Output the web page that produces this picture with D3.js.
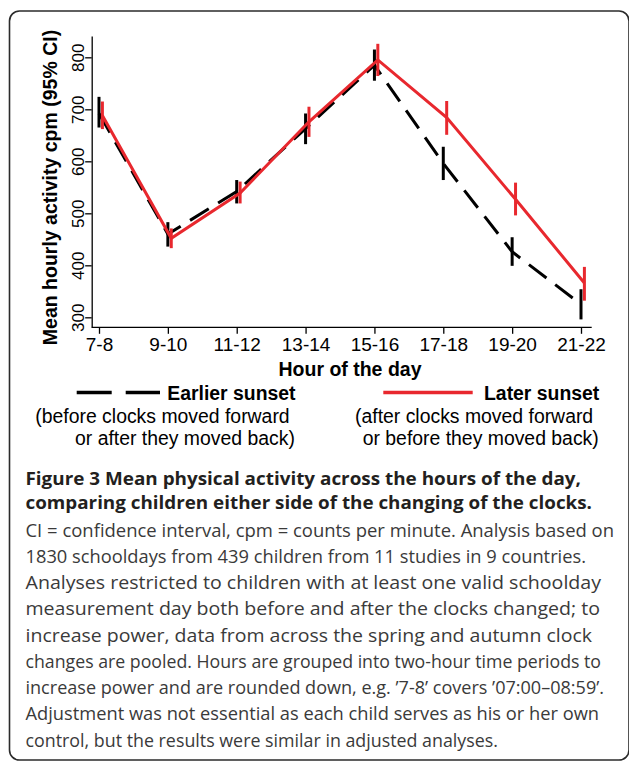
<!DOCTYPE html>
<html>
<head>
<meta charset="utf-8">
<script src="https://cdn.jsdelivr.net/npm/d3@7"></script>
<style>
body{margin:0;background:#fff}
</style>
</head>
<body>
<div id="chart"></div>
<script>
// hour groups on the x axis
var hours = ["7-8","9-10","11-12","13-14","15-16","17-18","19-20","21-22"];
var yTicks = [300,400,500,600,700,800];

// Earlier sunset (black dashed)
var earlierMean = [692,460,542,663,785,596,426,325];
var earlierLo   = [665,436,519,633,755,564,399,296];
var earlierHi   = [724,483,564,692,815,628,454,354];

// Later sunset (red solid)
var laterMean = [688,452,539,676,795,684,527,366];
var laterLo   = [662,433,519,647,764,651,496,332];
var laterHi   = [715,471,561,705,826,716,559,397];

var caption = [
  "CI = confidence interval, cpm = counts per minute. Analysis based on",
  "1830 schooldays from 439 children from 11 studies in 9 countries.",
  "Analyses restricted to children with at least one valid schoolday",
  "measurement day both before and after the clocks changed; to",
  "increase power, data from across the spring and autumn clock",
  "changes are pooled. Hours are grouped into two-hour time periods to",
  "increase power and are rounded down, e.g. \u20197-8\u2019 covers \u201907:00\u201308:59\u2019.",
  "Adjustment was not essential as each child serves as his or her own",
  "control, but the results were similar in adjusted analyses."
];
var captionTitle = [
  "Figure 3 Mean physical activity across the hours of the day,",
  "comparing children either side of the changing of the clocks."
];

var red = "#e8282e";
var chartFont = "'Liberation Sans', Arial, sans-serif";
var capFont = "'Open Sans', sans-serif";

var svg = d3.select("#chart").append("svg")
  .attr("width",629).attr("height",761);

// outer frame
svg.append("rect")
  .attr("x",9.5).attr("y",11).attr("width",619.5).attr("height",749)
  .attr("rx",10).attr("fill","none").attr("stroke","#2b2b2b").attr("stroke-width",1.6);

var plotLeft = 91.7, plotRight = 591.7, plotTop = 36, plotBottom = 327.3;

var x = d3.scalePoint().domain(hours).range([99,581]);
var y = d3.scaleLinear().domain([280.8,841]).range([plotBottom,plotTop]);

// Y axis
var gy = svg.append("g")
  .attr("transform","translate(" + plotLeft + ",0)")
  .call(d3.axisLeft(y).tickValues(yTicks).tickSize(6.5).tickSizeOuter(0));
gy.select(".domain").attr("stroke","#000").attr("stroke-width",1.3);
gy.selectAll(".tick line").attr("stroke","#000").attr("stroke-width",1.3);
gy.selectAll(".tick text")
  .attr("transform","rotate(-90)")
  .attr("x",0).attr("y",-8.2).attr("dy",0)
  .attr("text-anchor","middle")
  .style("font-family",chartFont).style("font-size","17px").attr("fill","#000");

// X axis
var gx = svg.append("g")
  .attr("transform","translate(0," + plotBottom + ")")
  .call(d3.axisBottom(x).tickSize(6.5).tickSizeOuter(0));
gx.select(".domain").remove();
gx.append("line").attr("x1",plotLeft).attr("x2",plotRight).attr("y1",0).attr("y2",0)
  .attr("stroke","#000").attr("stroke-width",1.3);
gx.selectAll(".tick line").attr("stroke","#000").attr("stroke-width",1.3);
gx.selectAll(".tick text")
  .attr("y",23.4).attr("dy",0)
  .style("font-family",chartFont).style("font-size","19px").attr("fill","#000");

// axis titles
svg.append("text")
  .attr("transform","translate(57,187.5) rotate(-90)")
  .attr("text-anchor","middle")
  .style("font-family",chartFont).style("font-size","19.5px").style("font-weight","bold")
  .text("Mean hourly activity cpm (95% CI)");

svg.append("text")
  .attr("x",350).attr("y",375.7).attr("text-anchor","middle")
  .style("font-family",chartFont).style("font-size","19.5px").style("font-weight","bold")
  .text("Hour of the day");

// series
function drawSeries(mean, lo, hi, off, color, dash) {
  var line = d3.line()
    .x(function(d,i){ return x(hours[i]) + off; })
    .y(function(d){ return y(d); });
  svg.append("path").datum(mean)
    .attr("d",line).attr("fill","none")
    .attr("stroke",color).attr("stroke-width",3)
    .attr("stroke-dasharray",dash);
  svg.selectAll(null).data(hours).enter().append("line")
    .attr("x1",function(d){ return x(d) + off; })
    .attr("x2",function(d){ return x(d) + off; })
    .attr("y1",function(d,i){ return y(lo[i]); })
    .attr("y2",function(d,i){ return y(hi[i]); })
    .attr("stroke",color).attr("stroke-width",3);
}
drawSeries(earlierMean, earlierLo, earlierHi, 0, "#000", "22,11");
drawSeries(laterMean, laterLo, laterHi, 3.4, red, null);

// legend
svg.append("line").attr("x1",76.7).attr("x2",160).attr("y1",392.5).attr("y2",392.5)
  .attr("stroke","#000").attr("stroke-width",3.3).attr("stroke-dasharray","35,14");
svg.append("line").attr("x1",383.3).attr("x2",472.7).attr("y1",392.5).attr("y2",392.5)
  .attr("stroke",red).attr("stroke-width",3.3);

var legText = [
  {x:167.3, y:400, t:"Earlier sunset", b:true},
  {x:484, y:399.5, t:"Later sunset", b:true},
  {x:35.3, y:423.3, t:"(before clocks moved forward", b:false},
  {x:75, y:445, t:"or after they moved back)", b:false},
  {x:355, y:423, t:"(after clocks moved forward", b:false},
  {x:362.7, y:445, t:"or before they moved back)", b:false}
];
svg.selectAll(null).data(legText).enter().append("text")
  .attr("x",function(d){ return d.x; }).attr("y",function(d){ return d.y; })
  .style("font-family",chartFont).style("font-size","19.4px")
  .style("font-weight",function(d){ return d.b ? "bold" : "normal"; })
  .attr("fill","#000")
  .text(function(d){ return d.t; });

// caption
var titleEnds = [581,592];
svg.selectAll(null).data(captionTitle).enter().append("text")
  .attr("x",25.5).attr("y",function(d,i){ return 484.5 + i*24; })
  .attr("textLength",function(d,i){ return titleEnds[i] - 25.5; })
  .attr("lengthAdjust","spacingAndGlyphs")
  .style("font-family",capFont).style("font-size","17.5px").style("font-weight","bold")
  .attr("fill","#231f20")
  .text(function(d){ return d; });

var capEnds = [614,586,601,600,592,601,604,599,498];
svg.selectAll(null).data(caption).enter().append("text")
  .attr("x",25.5).attr("y",function(d,i){ return 536.5 + i*26.28; })
  .attr("textLength",function(d,i){ return capEnds[i] - 25.5; })
  .attr("lengthAdjust","spacingAndGlyphs")
  .style("font-family",capFont).style("font-size","17.5px")
  .attr("fill","#3a3a3a")
  .text(function(d){ return d; });
</script>
</body>
</html>
